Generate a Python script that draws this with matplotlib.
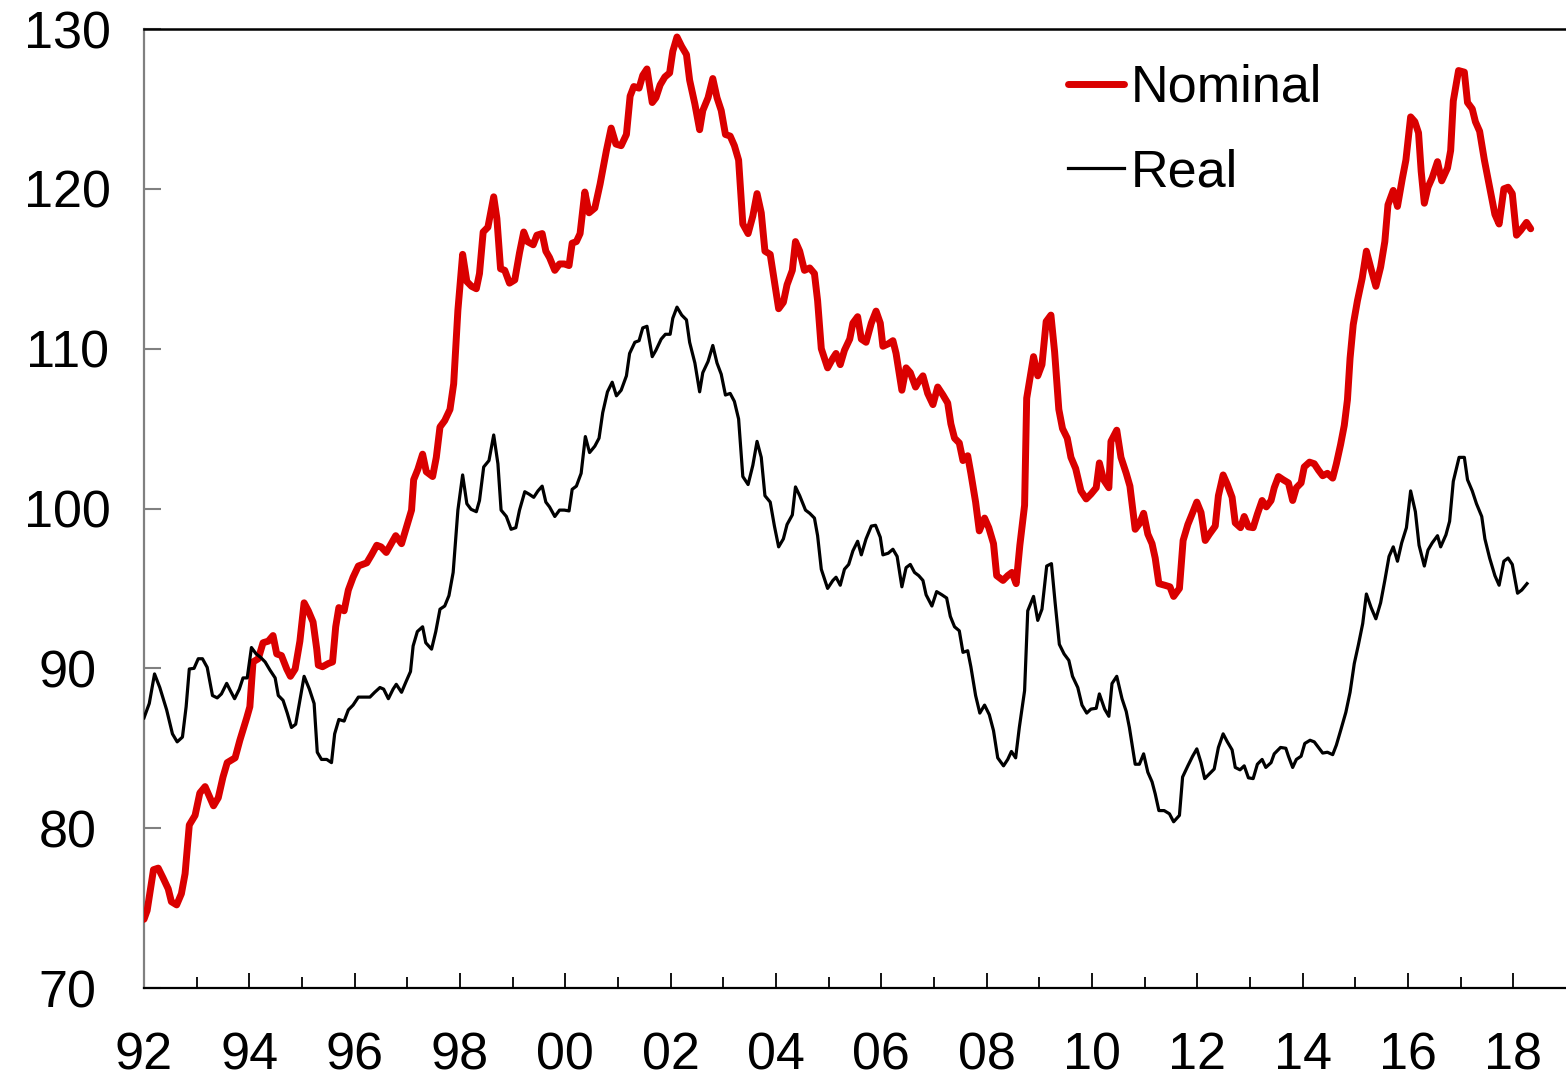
import matplotlib
matplotlib.use("Agg")
import matplotlib.pyplot as plt
from matplotlib.ticker import FixedLocator, FuncFormatter

plt.rcParams['font.family'] = ['Liberation Sans', 'DejaVu Sans']

# Nominal series (decimal year, index)
nominal_dates = [
    1992.00, 1992.06, 1992.18, 1992.27, 1992.36, 1992.46, 1992.52, 1992.62, 1992.71, 1992.78,
    1992.86, 1992.97, 1993.06, 1993.16, 1993.22, 1993.32, 1993.41, 1993.50, 1993.58, 1993.73,
    1993.82, 1993.95, 1994.01, 1994.07, 1994.17, 1994.26, 1994.36, 1994.45, 1994.52, 1994.61,
    1994.71, 1994.78, 1994.87, 1994.96, 1995.04, 1995.12, 1995.21, 1995.28, 1995.31, 1995.39,
    1995.50, 1995.58, 1995.64, 1995.70, 1995.80, 1995.88, 1995.97, 1996.07, 1996.23, 1996.32,
    1996.42, 1996.50, 1996.60, 1996.78, 1996.89, 1997.08, 1997.12, 1997.20, 1997.29, 1997.36,
    1997.48, 1997.55, 1997.62, 1997.71, 1997.81, 1997.88, 1997.96, 1998.05, 1998.13, 1998.22,
    1998.31, 1998.37, 1998.44, 1998.53, 1998.64, 1998.70, 1998.77, 1998.85, 1998.94, 1999.04,
    1999.13, 1999.21, 1999.28, 1999.39, 1999.46, 1999.56, 1999.63, 1999.70, 1999.80, 1999.89,
    1999.98, 2000.07, 2000.13, 2000.21, 2000.28, 2000.37, 2000.45, 2000.56, 2000.66, 2000.78,
    2000.87, 2000.96, 2001.06, 2001.16, 2001.23, 2001.30, 2001.40, 2001.47, 2001.55, 2001.65,
    2001.72, 2001.80, 2001.89, 2001.98, 2002.04, 2002.12, 2002.21, 2002.30, 2002.36, 2002.46,
    2002.55, 2002.61, 2002.71, 2002.80, 2002.88, 2002.96, 2003.04, 2003.13, 2003.21, 2003.29,
    2003.37, 2003.47, 2003.56, 2003.64, 2003.72, 2003.79, 2003.89, 2003.97, 2004.05, 2004.14,
    2004.21, 2004.31, 2004.37, 2004.45, 2004.54, 2004.64, 2004.73, 2004.79, 2004.86, 2004.98,
    2005.08, 2005.14, 2005.22, 2005.30, 2005.40, 2005.46, 2005.55, 2005.62, 2005.71, 2005.81,
    2005.90, 2005.98, 2006.03, 2006.13, 2006.22, 2006.28, 2006.39, 2006.47, 2006.55, 2006.65,
    2006.72, 2006.79, 2006.88, 2006.98, 2007.07, 2007.17, 2007.26, 2007.32, 2007.39, 2007.48,
    2007.55, 2007.64, 2007.70, 2007.79, 2007.86, 2007.96, 2008.04, 2008.13, 2008.19, 2008.31,
    2008.40, 2008.48, 2008.56, 2008.63, 2008.72, 2008.76, 2008.89, 2008.97, 2009.05, 2009.13,
    2009.22, 2009.29, 2009.37, 2009.44, 2009.53, 2009.60, 2009.69, 2009.79, 2009.89, 2009.98,
    2010.08, 2010.14, 2010.22, 2010.32, 2010.36, 2010.47, 2010.55, 2010.65, 2010.72, 2010.82,
    2010.90, 2010.98, 2011.06, 2011.14, 2011.20, 2011.27, 2011.38, 2011.48, 2011.55, 2011.66,
    2011.73, 2011.82, 2011.90, 2011.99, 2012.07, 2012.15, 2012.23, 2012.34, 2012.40, 2012.49,
    2012.57, 2012.66, 2012.72, 2012.82, 2012.89, 2012.97, 2013.06, 2013.14, 2013.23, 2013.31,
    2013.40, 2013.46, 2013.54, 2013.63, 2013.73, 2013.81, 2013.88, 2013.97, 2014.03, 2014.13,
    2014.22, 2014.30, 2014.38, 2014.47, 2014.57, 2014.64, 2014.72, 2014.79, 2014.85, 2014.90,
    2014.96, 2015.04, 2015.13, 2015.21, 2015.31, 2015.39, 2015.48, 2015.56, 2015.62, 2015.72,
    2015.80, 2015.89, 2015.96, 2016.05, 2016.13, 2016.20, 2016.25, 2016.31, 2016.38, 2016.46,
    2016.56, 2016.64, 2016.75, 2016.81, 2016.86, 2016.96, 2017.07, 2017.13, 2017.22, 2017.28,
    2017.36, 2017.45, 2017.55, 2017.65, 2017.73, 2017.82, 2017.90, 2017.98, 2018.06, 2018.14,
    2018.25, 2018.33,
]
nominal = [
    74.3, 74.85, 77.4, 77.5, 76.9, 76.2, 75.4, 75.2, 75.9, 77.15,
    80.2, 80.8, 82.2, 82.6, 82.15, 81.4, 81.9, 83.2, 84.1, 84.4,
    85.5, 86.9, 87.6, 90.4, 90.6, 91.6, 91.7, 92.05, 90.9, 90.8,
    89.96, 89.5, 89.96, 91.7, 94.1, 93.6, 92.9, 91.2, 90.2, 90.1,
    90.3, 90.4, 92.6, 93.8, 93.6, 94.9, 95.7, 96.4, 96.6, 97.1,
    97.7, 97.6, 97.25, 98.3, 97.8, 99.9, 101.8, 102.45, 103.4, 102.3,
    102.0, 103.2, 105.1, 105.5, 106.2, 107.8, 112.4, 115.9, 114.2, 113.9,
    113.75, 114.7, 117.3, 117.6, 119.5, 118.15, 115.0, 114.9, 114.1, 114.3,
    116.0, 117.3, 116.7, 116.5, 117.1, 117.2, 116.1, 115.7, 114.9, 115.3,
    115.3, 115.2, 116.6, 116.7, 117.2, 119.8, 118.5, 118.8, 120.3, 122.4,
    123.8, 122.8, 122.7, 123.4, 125.8, 126.4, 126.3, 127.1, 127.5, 125.4,
    125.7, 126.5, 127.0, 127.25, 128.6, 129.5, 128.9, 128.4, 126.8, 125.3,
    123.7, 124.9, 125.7, 126.9, 125.7, 124.9, 123.4, 123.3, 122.7, 121.8,
    117.8, 117.2, 118.3, 119.7, 118.5, 116.1, 115.9, 114.2, 112.5, 112.9,
    114.0, 114.9, 116.7, 116.1, 114.9, 115.05, 114.7, 113.0, 110.0, 108.8,
    109.4, 109.7, 109.0, 109.9, 110.6, 111.6, 112.0, 110.6, 110.4, 111.6,
    112.35, 111.6, 110.15, 110.3, 110.5, 109.7, 107.4, 108.8, 108.5, 107.6,
    108.0, 108.3, 107.2, 106.5, 107.6, 107.1, 106.6, 105.3, 104.4, 104.1,
    103.0, 103.3, 102.2, 100.4, 98.6, 99.4, 98.8, 97.8, 95.8, 95.5,
    95.8, 96.0, 95.3, 97.7, 100.2, 106.9, 109.5, 108.3, 109.0, 111.7,
    112.1, 109.8, 106.2, 105.0, 104.4, 103.2, 102.5, 101.1, 100.6, 100.9,
    101.3, 102.85, 101.8, 101.3, 104.2, 104.9, 103.2, 102.2, 101.4, 98.7,
    99.05, 99.7, 98.4, 97.8, 96.9, 95.3, 95.2, 95.1, 94.5, 95.0,
    98.0, 99.0, 99.65, 100.4, 99.75, 98.0, 98.4, 98.9, 100.8, 102.1,
    101.5, 100.7, 99.1, 98.8, 99.5, 98.85, 98.8, 99.65, 100.5, 100.1,
    100.5, 101.3, 102.0, 101.8, 101.6, 100.5, 101.3, 101.6, 102.6, 102.9,
    102.8, 102.4, 102.05, 102.2, 101.9, 102.8, 104.0, 105.2, 106.8, 109.4,
    111.5, 113.0, 114.4, 116.1, 114.85, 113.9, 115.1, 116.7, 119.0, 119.9,
    118.9, 120.6, 121.8, 124.5, 124.2, 123.5, 121.1, 119.1, 120.1, 120.7,
    121.7, 120.5, 121.3, 122.4, 125.5, 127.4, 127.3, 125.4, 125.0, 124.2,
    123.6, 121.8, 120.1, 118.4, 117.8, 120.0, 120.1, 119.7, 117.1, 117.4,
    117.9, 117.5,
]

# Real series (decimal year, index)
real_dates = [
    1992.00, 1992.10, 1992.20, 1992.30, 1992.43, 1992.54, 1992.63, 1992.73, 1992.80, 1992.86,
    1992.95, 1993.03, 1993.11, 1993.20, 1993.30, 1993.39, 1993.47, 1993.57, 1993.64, 1993.72,
    1993.81, 1993.88, 1993.96, 1994.04, 1994.13, 1994.21, 1994.30, 1994.39, 1994.49, 1994.55,
    1994.64, 1994.72, 1994.80, 1994.88, 1994.96, 1995.04, 1995.14, 1995.23, 1995.29, 1995.37,
    1995.47, 1995.56, 1995.62, 1995.70, 1995.80, 1995.88, 1995.97, 1996.07, 1996.16, 1996.29,
    1996.38, 1996.48, 1996.55, 1996.64, 1996.73, 1996.79, 1996.89, 1996.98, 1997.06, 1997.11,
    1997.19, 1997.29, 1997.35, 1997.46, 1997.54, 1997.62, 1997.71, 1997.79, 1997.87, 1997.96,
    1998.05, 1998.13, 1998.21, 1998.31, 1998.37, 1998.45, 1998.55, 1998.64, 1998.72, 1998.78,
    1998.88, 1998.97, 1999.06, 1999.13, 1999.23, 1999.31, 1999.40, 1999.48, 1999.56, 1999.63,
    1999.70, 1999.80, 1999.89, 1999.98, 2000.07, 2000.13, 2000.21, 2000.30, 2000.38, 2000.46,
    2000.56, 2000.64, 2000.71, 2000.80, 2000.89, 2000.97, 2001.06, 2001.16, 2001.22, 2001.32,
    2001.40, 2001.47, 2001.55, 2001.65, 2001.72, 2001.82, 2001.90, 2001.99, 2002.04, 2002.12,
    2002.21, 2002.30, 2002.36, 2002.46, 2002.55, 2002.61, 2002.71, 2002.80, 2002.88, 2002.96,
    2003.04, 2003.13, 2003.21, 2003.29, 2003.37, 2003.47, 2003.56, 2003.64, 2003.72, 2003.79,
    2003.89, 2003.97, 2004.05, 2004.14, 2004.21, 2004.31, 2004.37, 2004.45, 2004.56, 2004.64,
    2004.73, 2004.79, 2004.86, 2004.98, 2005.08, 2005.14, 2005.22, 2005.30, 2005.38, 2005.46,
    2005.55, 2005.62, 2005.71, 2005.81, 2005.89, 2005.98, 2006.03, 2006.13, 2006.22, 2006.30,
    2006.39, 2006.47, 2006.55, 2006.63, 2006.71, 2006.79, 2006.85, 2006.96, 2007.05, 2007.15,
    2007.24, 2007.31, 2007.39, 2007.48, 2007.55, 2007.64, 2007.70, 2007.79, 2007.87, 2007.96,
    2008.05, 2008.13, 2008.21, 2008.32, 2008.40, 2008.47, 2008.55, 2008.62, 2008.72, 2008.78,
    2008.89, 2008.97, 2009.05, 2009.14, 2009.23, 2009.30, 2009.38, 2009.47, 2009.56, 2009.63,
    2009.73, 2009.81, 2009.90, 2009.98, 2010.08, 2010.14, 2010.24, 2010.32, 2010.38, 2010.47,
    2010.57, 2010.65, 2010.71, 2010.82, 2010.90, 2010.98, 2011.06, 2011.14, 2011.20, 2011.27,
    2011.37, 2011.47, 2011.55, 2011.66, 2011.72, 2011.82, 2011.91, 2011.99, 2012.07, 2012.14,
    2012.23, 2012.32, 2012.40, 2012.49, 2012.57, 2012.66, 2012.72, 2012.81, 2012.89, 2012.97,
    2013.06, 2013.14, 2013.23, 2013.30, 2013.40, 2013.46, 2013.58, 2013.68, 2013.73, 2013.81,
    2013.88, 2013.97, 2014.04, 2014.14, 2014.22, 2014.30, 2014.38, 2014.47, 2014.57, 2014.64,
    2014.72, 2014.82, 2014.90, 2014.98, 2015.06, 2015.14, 2015.21, 2015.30, 2015.39, 2015.48,
    2015.56, 2015.64, 2015.72, 2015.80, 2015.88, 2015.97, 2016.05, 2016.14, 2016.21, 2016.31,
    2016.38, 2016.46, 2016.56, 2016.62, 2016.72, 2016.79, 2016.86, 2016.97, 2017.07, 2017.13,
    2017.22, 2017.30, 2017.40, 2017.46, 2017.55, 2017.65, 2017.73, 2017.82, 2017.90, 2017.98,
    2018.08, 2018.16, 2018.26,
]
real = [
    86.9, 87.8, 89.65, 88.8, 87.4, 85.9, 85.4, 85.7, 87.6, 89.96,
    90.0, 90.6, 90.6, 90.06, 88.3, 88.15, 88.4, 89.06, 88.6, 88.1,
    88.7, 89.4, 89.4, 91.3, 90.9, 90.7, 90.4, 89.9, 89.4, 88.3,
    88.0, 87.2, 86.3, 86.5, 88.0, 89.5, 88.7, 87.8, 84.75, 84.3,
    84.3, 84.1, 85.9, 86.8, 86.7, 87.4, 87.7, 88.2, 88.2, 88.2,
    88.5, 88.8, 88.7, 88.1, 88.7, 89.0, 88.5, 89.2, 89.8, 91.4,
    92.3, 92.6, 91.6, 91.2, 92.3, 93.7, 93.9, 94.55, 96.0, 99.9,
    102.1, 100.3, 99.95, 99.8, 100.5, 102.6, 103.0, 104.6, 102.8, 99.9,
    99.5, 98.7, 98.8, 99.9, 101.05, 100.9, 100.7, 101.1, 101.4, 100.4,
    100.1, 99.5, 99.9, 99.9, 99.85, 101.2, 101.4, 102.2, 104.5, 103.5,
    103.9, 104.4, 106.0, 107.3, 107.9, 107.05, 107.4, 108.3, 109.7, 110.4,
    110.5, 111.3, 111.4, 109.5, 109.9, 110.6, 110.9, 110.9, 111.9, 112.6,
    112.1, 111.8, 110.4, 109.1, 107.3, 108.5, 109.2, 110.2, 109.1, 108.4,
    107.1, 107.2, 106.7, 105.6, 102.0, 101.5, 102.7, 104.2, 103.2, 100.8,
    100.4, 98.9, 97.6, 98.1, 99.0, 99.6, 101.35, 100.8, 99.9, 99.7,
    99.4, 98.3, 96.2, 95.0, 95.5, 95.7, 95.2, 96.2, 96.5, 97.35,
    97.95, 97.1, 98.1, 98.9, 98.95, 98.2, 97.1, 97.2, 97.45, 97.0,
    95.1, 96.3, 96.5, 96.0, 95.8, 95.5, 94.6, 93.9, 94.8, 94.6,
    94.4, 93.25, 92.6, 92.35, 91.0, 91.1, 90.1, 88.3, 87.2, 87.7,
    87.1, 86.1, 84.4, 83.9, 84.3, 84.8, 84.4, 86.3, 88.6, 93.6,
    94.5, 93.0, 93.7, 96.4, 96.55, 94.1, 91.5, 90.9, 90.5, 89.5,
    88.8, 87.7, 87.2, 87.45, 87.5, 88.4, 87.45, 87.0, 89.05, 89.5,
    88.1, 87.3, 86.3, 84.0, 84.0, 84.65, 83.5, 82.9, 82.15, 81.1,
    81.1, 80.9, 80.4, 80.8, 83.2, 83.9, 84.5, 84.96, 84.1, 83.1,
    83.4, 83.7, 85.05, 85.9, 85.4, 84.9, 83.8, 83.65, 83.9, 83.15,
    83.1, 84.0, 84.3, 83.8, 84.1, 84.65, 85.05, 85.0, 84.5, 83.8,
    84.3, 84.5, 85.3, 85.5, 85.4, 85.05, 84.7, 84.75, 84.6, 85.2,
    86.1, 87.25, 88.5, 90.3, 91.5, 92.8, 94.65, 93.8, 93.1, 94.1,
    95.5, 97.0, 97.6, 96.7, 97.85, 98.8, 101.1, 99.8, 97.7, 96.4,
    97.4, 97.85, 98.3, 97.6, 98.35, 99.2, 101.7, 103.2, 103.2, 101.8,
    101.1, 100.3, 99.5, 98.1, 96.9, 95.8, 95.2, 96.7, 96.9, 96.5,
    94.7, 94.9, 95.3,
]

label_years = list(range(1992, 2019, 2))
minor_years = list(range(1993, 2019, 2))
y_ticks = [70, 80, 90, 100, 110, 120, 130]

RED = '#DA0000'
GREY = '#808080'
FS = 37.5

fig = plt.figure(figsize=(15.66, 10.77), dpi=100)
ax = fig.add_axes([144 / 1566, 1 - 988 / 1077, 1 - 144 / 1566, (988 - 29) / 1077])

ax.plot(nominal_dates, nominal, color=RED, lw=5.0, solid_joinstyle='round',
        solid_capstyle='round', label='Nominal', zorder=3)
ax.plot(real_dates, real, color='black', lw=2.3, label='Real', zorder=4)

ax.set_xlim(1992, 2019)
ax.set_ylim(70, 130)

ax.xaxis.set_major_locator(FixedLocator(label_years))
ax.xaxis.set_minor_locator(FixedLocator(minor_years))
ax.xaxis.set_major_formatter(FuncFormatter(lambda v, p: f"{int(round(v)) % 100:02d}"))
ax.yaxis.set_major_locator(FixedLocator(y_ticks))

ax.tick_params(axis='x', which='major', direction='in', length=11, width=1.3,
               color='black', labelsize=FS, pad=31)
ax.tick_params(axis='x', which='minor', direction='in', length=8, width=1.3, color='black')
ax.tick_params(axis='y', which='major', direction='in', length=12, width=1.5,
               color=GREY, labelsize=FS, pad=55)
for lab in ax.get_yticklabels():
    lab.set_horizontalalignment('center')

ax.spines['right'].set_visible(False)
ax.spines['left'].set_color(GREY)
ax.spines['left'].set_linewidth(1.6)
ax.spines['bottom'].set_linewidth(1.6)
ax.spines['top'].set_linewidth(1.8)

leg = ax.legend(loc='upper left', bbox_to_anchor=(1068 / 1566, 1 - 64 / 1077),
                bbox_transform=fig.transFigure, frameon=False, fontsize=FS,
                handlelength=1.08, handletextpad=0.12, labelspacing=0.68,
                borderpad=0, borderaxespad=0)

fig.savefig('out.png', dpi=100)
